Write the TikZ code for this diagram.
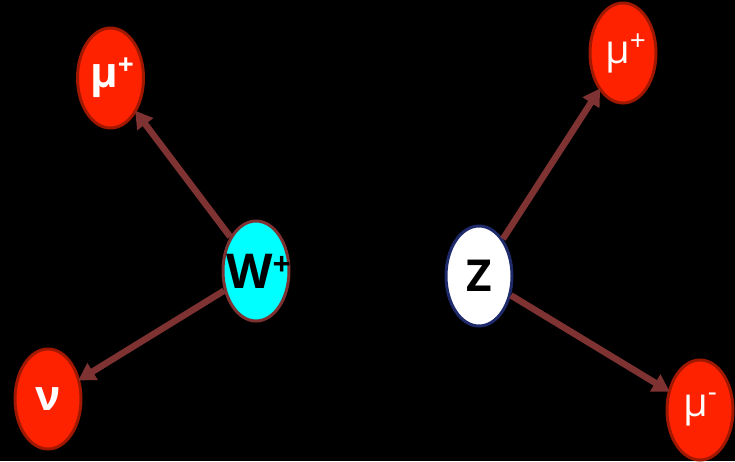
\documentclass[tikz,border=0pt]{standalone}
\usepackage{fontspec}
\setmainfont{Open Sans}
\usetikzlibrary{shapes.geometric,arrows.meta}
\definecolor{arr}{HTML}{7E3232}
\definecolor{lep}{HTML}{FF2200}
\definecolor{lepb}{HTML}{A01800}
\definecolor{zb}{HTML}{1F2A6B}
\definecolor{wcyan}{HTML}{00FFFF}
\tikzset{
  part/.style={ellipse, minimum width=66pt, minimum height=100pt, inner sep=0pt, line width=3pt},
  lepton/.style={part, fill=lep, draw=lepb, text=white},
  conn/.style={draw=arr, line width=6.5pt, -{Triangle[length=17pt,width=19pt]}, shorten >=-2pt}
}
\begin{document}
\begin{tikzpicture}[x=1pt,y=-1pt]
\fill[black] (0,0) rectangle (735,461);
\useasboundingbox (0,0) rectangle (735,461);
\node[lepton, font=\fontsize{42}{42}\selectfont\bfseries] (mul) at (110.5,78) {\makebox[0pt]{\hspace{3pt}μ\raisebox{13pt}{\fontsize{28}{28}\selectfont +}}};
\node[lepton, font=\fontsize{42}{42}\selectfont\bfseries] (nu) at (48,399) {ν};
\node[lepton, font=\fontsize{40}{40}\selectfont] (mur) at (623,53) {\makebox[0pt]{\hspace{5pt}μ\raisebox{13pt}{\fontsize{28}{28}\selectfont +}}};
\node[lepton, font=\fontsize{40}{40}\selectfont] (mum) at (700,410) {\makebox[0pt]{μ\raisebox{15pt}{\fontsize{28}{28}\selectfont -}}};
\node[part, fill=wcyan, draw=arr, font=\fontsize{48}{48}\selectfont\bfseries] (w) at (256,271) {\makebox[0pt]{\hspace{5pt}W\raisebox{13pt}{\fontsize{32}{32}\selectfont +}}};
\node[part, fill=white, draw=zb, font=\fontsize{44}{44}\selectfont\bfseries] (z) at (479,276) {Z};
\draw[conn] (w) -- (mul);
\draw[conn] (w) -- (nu);
\draw[conn] (z) -- (mur);
\draw[conn] (z) -- (mum);
\end{tikzpicture}
\end{document}
